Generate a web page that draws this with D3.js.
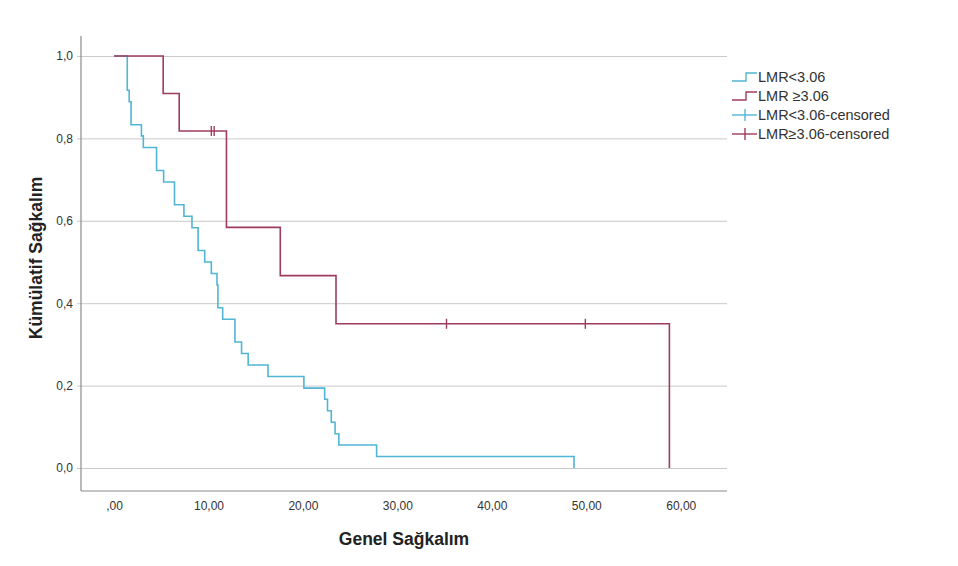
<!DOCTYPE html>
<html>
<head>
<meta charset="utf-8">
<script src="https://cdn.jsdelivr.net/npm/d3@7"></script>
<style>
  html, body { margin: 0; padding: 0; background: #ffffff; }
  svg { display: block; font-family: "Liberation Sans", Arial, sans-serif; }
</style>
</head>
<body>
<svg id="chart" width="958" height="566"></svg>
<script>
// ---- data ----
const blueTimes = [0, 1.4, 1.6, 1.8, 2.9, 3.1, 4.5, 5.25, 6.4, 7.4, 8.25, 8.9, 9.6, 10.3, 10.9, 11.0, 11.5, 12.8, 13.5, 14.2, 16.3, 20.1, 22.3, 22.6, 23.0, 23.4, 23.8, 27.8, 48.7];
const blueSurv  = [1, 0.917, 0.889, 0.833, 0.806, 0.778, 0.722, 0.694, 0.639, 0.611, 0.583, 0.528, 0.5, 0.472, 0.444, 0.389, 0.361, 0.306, 0.278, 0.25, 0.222, 0.194, 0.167, 0.139, 0.111, 0.083, 0.056, 0.028, 0];
const blueCensored = [];

const redTimes = [0, 5.2, 6.9, 11.9, 17.6, 23.5, 58.8];
const redSurv  = [1, 0.909, 0.818, 0.584, 0.467, 0.35, 0];
const redCensored = [10.3, 10.6, 35.2, 49.9];

const seriesNames = ["LMR<3.06", "LMR \u22653.06", "LMR<3.06-censored", "LMR\u22653.06-censored"];
const xTickValues = [0, 10, 20, 30, 40, 50, 60];
const xTickLabels = [",00", "10,00", "20,00", "30,00", "40,00", "50,00", "60,00"];
const yTickValues = [0, 0.2, 0.4, 0.6, 0.8, 1.0];
const yTickLabels = ["0,0", "0,2", "0,4", "0,6", "0,8", "1,0"];
const xTitle = "Genel Sağkalım";
const yTitle = "Kümülatif Sağkalım";

// ---- layout ----
const BLUE = "#52b5d6";
const RED = "#9e3c5c";
const pLeft = 81, pRight = 727, pTop = 36, pBottom = 491;

const x = d3.scaleLinear().domain([-3.5, 64.9]).range([pLeft, pRight]);
const y = d3.scaleLinear().domain([-0.0558, 1.0485]).range([pBottom, pTop]);

const svg = d3.select("#chart");
svg.append("rect").attr("width", 958).attr("height", 566).attr("fill", "#fff");

// gridlines + y axis
const yAxis = d3.axisLeft(y)
  .tickValues(yTickValues)
  .tickFormat((d, i) => yTickLabels[i])
  .tickSizeInner(-(pRight - pLeft))
  .tickSizeOuter(0)
  .tickPadding(8);
const gy = svg.append("g").attr("transform", `translate(${pLeft},0)`).call(yAxis);
gy.select(".domain").remove();
gy.selectAll(".tick line").attr("stroke", "#c9c9c9").attr("stroke-width", 1).attr("x1", -4);
gy.selectAll(".tick text").attr("font-size", 12).attr("fill", "#333").attr("font-family", "Liberation Sans, Arial, sans-serif");

// x axis
const xAxis = d3.axisBottom(x)
  .tickValues(xTickValues)
  .tickFormat((d, i) => xTickLabels[i])
  .tickSize(0)
  .tickPadding(10);
const gx = svg.append("g").attr("transform", `translate(0,${pBottom})`).call(xAxis);
gx.select(".domain").remove();
gx.selectAll(".tick text").attr("font-size", 12).attr("fill", "#333").attr("font-family", "Liberation Sans, Arial, sans-serif");

// axis frame lines
svg.append("line").attr("x1", pLeft).attr("x2", pLeft).attr("y1", pTop).attr("y2", pBottom)
  .attr("stroke", "#8a8a8a").attr("stroke-width", 1.2);
svg.append("line").attr("x1", pLeft).attr("x2", pRight).attr("y1", pBottom).attr("y2", pBottom)
  .attr("stroke", "#8a8a8a").attr("stroke-width", 1.2);

// survival curves
const line = d3.line().x(d => x(d[0])).y(d => y(d[1])).curve(d3.curveStepAfter);
function stepValue(times, surv, t) {
  let v = surv[0];
  for (let i = 0; i < times.length; i++) if (times[i] <= t) v = surv[i];
  return v;
}
function drawSeries(times, surv, censored, color) {
  const pts = times.map((t, i) => [t, surv[i]]);
  svg.append("path").attr("d", line(pts)).attr("fill", "none")
    .attr("stroke", color).attr("stroke-width", 1.6);
  svg.append("g").selectAll("line").data(censored).join("line")
    .attr("x1", d => x(d)).attr("x2", d => x(d))
    .attr("y1", d => y(stepValue(times, surv, d)) - 5)
    .attr("y2", d => y(stepValue(times, surv, d)) + 5)
    .attr("stroke", color).attr("stroke-width", 1.4);
}
drawSeries(blueTimes, blueSurv, blueCensored, BLUE);
drawSeries(redTimes, redSurv, redCensored, RED);

// titles
svg.append("text").attr("x", 404).attr("y", 545)
  .attr("text-anchor", "middle").attr("font-size", 17.5).attr("font-weight", "bold")
  .attr("fill", "#222").text(xTitle);
svg.append("text").attr("transform", "translate(42,258) rotate(-90)")
  .attr("text-anchor", "middle").attr("font-size", 17.5).attr("font-weight", "bold")
  .attr("fill", "#222").text(yTitle);

// legend
const legendRows = [77, 96, 115, 134];
const lg = svg.append("g");
const colors = [BLUE, RED, BLUE, RED];
legendRows.forEach((ry, i) => {
  const c = colors[i];
  if (i < 2) {
    lg.append("path")
      .attr("d", `M732,${ry + 4}H746V${ry - 4}H757`)
      .attr("fill", "none").attr("stroke", c).attr("stroke-width", 1.4);
  } else {
    lg.append("line").attr("x1", 732).attr("x2", 757).attr("y1", ry).attr("y2", ry)
      .attr("stroke", c).attr("stroke-width", 1.4);
    lg.append("line").attr("x1", 745).attr("x2", 745).attr("y1", ry - 6).attr("y2", ry + 6)
      .attr("stroke", c).attr("stroke-width", 1.4);
  }
  lg.append("text").attr("x", 758).attr("y", ry).attr("dy", "0.35em")
    .attr("font-size", 14.5).attr("fill", "#333").text(seriesNames[i]);
});
</script>
</body>
</html>
